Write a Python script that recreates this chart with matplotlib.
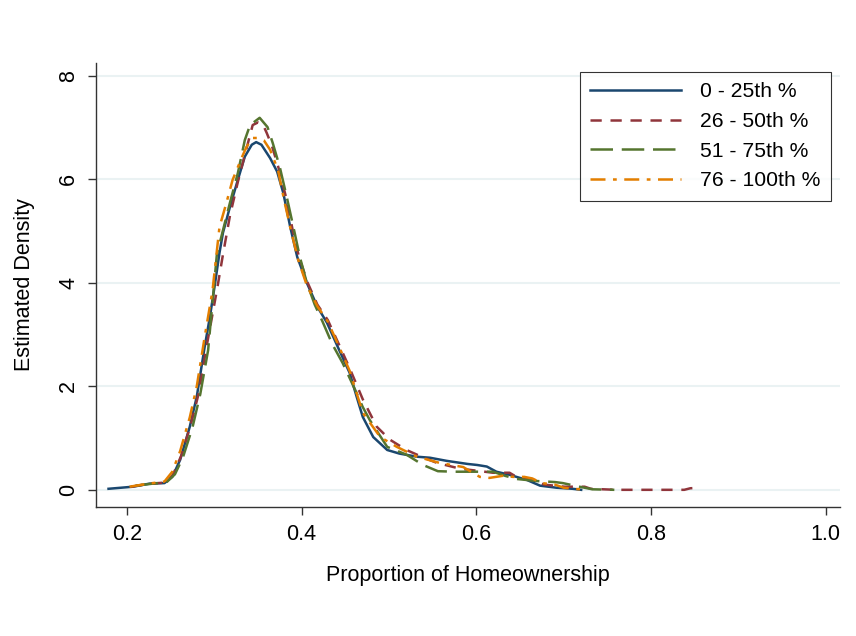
import matplotlib.pyplot as plt

plt.rcParams['font.family'] = ['Liberation Sans', 'DejaVu Sans']

# kernel density estimates of homeownership share, by income quartile
q1_x = [0.179, 0.207, 0.226, 0.243, 0.252, 0.261, 0.272, 0.280, 0.289, 0.295, 0.301, 0.306,
        0.310, 0.318, 0.327, 0.335, 0.343, 0.348, 0.354, 0.364, 0.372, 0.379, 0.387, 0.395,
        0.406, 0.418, 0.429, 0.442, 0.455, 0.463, 0.470, 0.482, 0.498, 0.512, 0.532, 0.547,
        0.566, 0.590, 0.601, 0.612, 0.623, 0.638, 0.658, 0.673, 0.692, 0.710, 0.720]
q1_y = [0.02, 0.06, 0.12, 0.13, 0.25, 0.58, 1.22, 1.80, 2.76, 3.34, 4.00, 4.58,
        4.97, 5.47, 5.99, 6.44, 6.67, 6.72, 6.67, 6.41, 6.15, 5.74, 5.08, 4.50,
        4.00, 3.54, 3.23, 2.74, 2.26, 1.80, 1.41, 1.02, 0.77, 0.70, 0.64, 0.62,
        0.56, 0.50, 0.48, 0.45, 0.35, 0.29, 0.19, 0.08, 0.04, 0.02, 0.00]

q2_x = [0.205, 0.226, 0.245, 0.253, 0.262, 0.273, 0.282, 0.291, 0.297, 0.304, 0.310, 0.318,
        0.327, 0.337, 0.344, 0.350, 0.356, 0.360, 0.366, 0.374, 0.383, 0.390, 0.397, 0.407,
        0.418, 0.430, 0.443, 0.455, 0.470, 0.486, 0.501, 0.520, 0.540, 0.555, 0.581, 0.619,
        0.638, 0.646, 0.660, 0.678, 0.701, 0.724, 0.731, 0.760, 0.800, 0.838, 0.845, 0.856]
q2_y = [0.06, 0.12, 0.14, 0.30, 0.65, 1.25, 1.85, 2.75, 3.30, 3.95, 4.55, 5.30,
        5.95, 6.60, 7.05, 7.10, 7.05, 6.90, 6.65, 6.20, 5.60, 5.00, 4.50, 4.00,
        3.58, 3.28, 2.80, 2.35, 1.75, 1.22, 0.97, 0.77, 0.62, 0.52, 0.41, 0.33,
        0.33, 0.25, 0.21, 0.10, 0.06, 0.06, 0.02, 0.00, 0.00, 0.00, 0.03, 0.04]

q3_x = [0.210, 0.230, 0.245, 0.255, 0.264, 0.275, 0.284, 0.293, 0.303, 0.318, 0.327, 0.335,
        0.341, 0.352, 0.361, 0.367, 0.375, 0.383, 0.392, 0.398, 0.406, 0.415, 0.424, 0.435,
        0.447, 0.463, 0.470, 0.478, 0.498, 0.520, 0.539, 0.556, 0.575, 0.589, 0.619, 0.633,
        0.646, 0.669, 0.690, 0.699, 0.718, 0.733, 0.758]
q3_y = [0.08, 0.12, 0.14, 0.30, 0.62, 1.20, 1.85, 2.70, 4.55, 5.55, 6.12, 6.76,
        7.05, 7.19, 7.01, 6.70, 6.24, 5.66, 4.97, 4.50, 4.00, 3.58, 3.25, 2.82,
        2.45, 1.87, 1.60, 1.35, 0.83, 0.68, 0.48, 0.36, 0.35, 0.35, 0.35, 0.27,
        0.21, 0.17, 0.15, 0.13, 0.06, 0.01, 0.00]

q4_x = [0.203, 0.225, 0.243, 0.252, 0.261, 0.272, 0.280, 0.289, 0.298, 0.306, 0.314, 0.321,
        0.332, 0.337, 0.344, 0.350, 0.357, 0.364, 0.373, 0.380, 0.388, 0.396, 0.406, 0.418,
        0.430, 0.442, 0.455, 0.470, 0.490, 0.509, 0.532, 0.558, 0.585, 0.604, 0.615, 0.630,
        0.642, 0.655, 0.664, 0.675, 0.690, 0.700, 0.712, 0.725]
q4_y = [0.06, 0.12, 0.16, 0.35, 0.75, 1.40, 2.00, 2.95, 3.85, 5.08, 5.55, 5.99,
        6.44, 6.63, 6.80, 6.80, 6.75, 6.57, 6.18, 5.60, 5.00, 4.45, 3.95, 3.55,
        3.25, 2.80, 2.30, 1.49, 1.02, 0.83, 0.64, 0.52, 0.44, 0.25, 0.23, 0.27,
        0.25, 0.25, 0.22, 0.13, 0.10, 0.04, 0.02, 0.00]

labels = ['0 - 25th %', '26 - 50th %', '51 - 75th %', '76 - 100th %']
colors = ['#1a476f', '#90353b', '#55752f', '#e37e00']
styles = ['-', (0, (4.5, 3.5)), (0, (9, 3.5)), (0, (6, 3, 1.5, 3))]

fig = plt.figure(figsize=(8.56, 6.36), dpi=100)
ax = fig.add_axes([0.112, 0.203, 0.869, 0.698])

series = [(q1_x, q1_y), (q2_x, q2_y), (q3_x, q3_y), (q4_x, q4_y)]
for (xs, ys), lab, c, ls in zip(series, labels, colors, styles):
    ax.plot(xs, ys, color=c, linestyle=ls, linewidth=1.8, label=lab)

ax.set_xlim(0.1645, 1.016)
ax.set_ylim(-0.33, 8.25)
ax.set_xticks([0.2, 0.4, 0.6, 0.8, 1.0])
ax.set_xticklabels(['0.2', '0.4', '0.6', '0.8', '1.0'])
ax.set_yticks([0, 2, 4, 6, 8])
ax.grid(axis='y', color='#eaf2f3', linewidth=1.5)
ax.set_axisbelow(True)

for side in ['top', 'right']:
    ax.spines[side].set_visible(False)
for side in ['left', 'bottom']:
    ax.spines[side].set_color('#333333')
    ax.spines[side].set_linewidth(1.0)

ax.tick_params(axis='both', length=6, width=1, color='#333333', labelsize=15.5, pad=6)
plt.setp(ax.get_yticklabels(), rotation=90, va='center')

ax.set_xlabel('Proportion of Homeownership', fontsize=15.5, labelpad=15)
ax.set_ylabel('Estimated Density', fontsize=15.5, labelpad=17)

leg = ax.legend(loc='upper right', bbox_to_anchor=(0.988, 0.98), fontsize=15.2,
                frameon=True, fancybox=False, handlelength=4.3, borderpad=0.5,
                labelspacing=0.5, handletextpad=0.9, borderaxespad=0)
leg.get_frame().set_edgecolor('black')
leg.get_frame().set_linewidth(0.8)

fig.savefig('out.png', dpi=100)
